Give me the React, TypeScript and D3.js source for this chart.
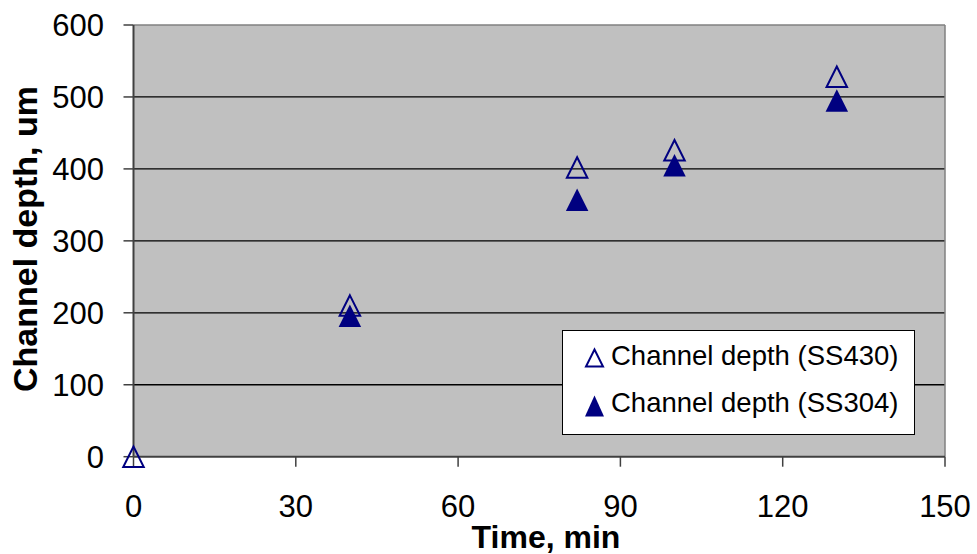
import React from "react";
import * as d3 from "d3";

const W = 977;
const H = 554;

const xTicks = [0, 30, 60, 90, 120, 150];
const yTicks = [0, 100, 200, 300, 400, 500, 600];

const ss430Time = [0, 40, 82, 100, 130];
const ss430Depth = [0, 210, 402, 426, 528];

const ss304Time = [40, 82, 100, 130];
const ss304Depth = [196, 357, 405, 495];

const seriesNames = ["Channel depth (SS430)", "Channel depth (SS304)"];

const NAVY = "#000080";

function tri(cx: number, cy: number, w: number, h: number) {
  const p = d3.path();
  p.moveTo(cx, cy - h / 2);
  p.lineTo(cx + w / 2, cy + h / 2);
  p.lineTo(cx - w / 2, cy + h / 2);
  p.closePath();
  return p.toString();
}

export default function App() {
  const left = 133.5;
  const right = 945;
  const top = 25;
  const bottom = 456.7;
  const x = d3.scaleLinear().domain([0, 150]).range([left, right]);
  const y = d3.scaleLinear().domain([0, 600]).range([bottom, top]);

  const font = "Arial, 'Liberation Sans', sans-serif";

  return (
    <svg
      width={W}
      height={H}
      style={{ position: "absolute", left: 0, top: 0, display: "block" }}
      fontFamily={font}
    >
      <rect x={0} y={0} width={W} height={H} fill="#ffffff" />
      <rect x={left} y={top} width={right - left} height={bottom - top} fill="#C0C0C0" />
      {yTicks
        .filter((t) => t > 0 && t < 600)
        .map((t) => (
          <line key={"g" + t} x1={left} x2={right} y1={y(t)} y2={y(t)} stroke="#000" strokeWidth={1.3} />
        ))}
      <line x1={left} x2={right} y1={top} y2={top} stroke="#808080" strokeWidth={1.5} />
      <line x1={right} x2={right} y1={top} y2={bottom} stroke="#808080" strokeWidth={1.5} />
      <line x1={left} x2={left} y1={top} y2={bottom} stroke="#404040" strokeWidth={2} />
      <line x1={left} x2={right} y1={bottom} y2={bottom} stroke="#404040" strokeWidth={2} />
      {yTicks.map((t) => (
        <g key={"yt" + t}>
          <line x1={left - 10} x2={left} y1={y(t)} y2={y(t)} stroke="#404040" strokeWidth={1.5} />
          <text x={104} y={y(t) + 11} textAnchor="end" fontSize={31} fill="#000">
            {t}
          </text>
        </g>
      ))}
      {xTicks.map((t) => (
        <g key={"xt" + t}>
          <line x1={x(t)} x2={x(t)} y1={bottom} y2={bottom + 10} stroke="#404040" strokeWidth={1.5} />
          <text x={x(t)} y={517} textAnchor="middle" fontSize={31} fill="#000">
            {t}
          </text>
        </g>
      ))}
      <text x={546} y={548} textAnchor="middle" fontSize={32} fontWeight="bold" fill="#000">
        Time, min
      </text>
      <text
        transform={`translate(37,239) rotate(-90)`}
        textAnchor="middle"
        fontSize={34}
        fontWeight="bold"
        fill="#000"
      >
        Channel depth, um
      </text>
      {ss430Time.map((t, i) => (
        <path
          key={"a" + i}
          d={tri(x(t), y(ss430Depth[i]), 20.5, 20.5)}
          fill="none"
          stroke={NAVY}
          strokeWidth={2}
          strokeLinejoin="miter"
        />
      ))}
      {ss304Time.map((t, i) => (
        <path key={"b" + i} d={tri(x(t), y(ss304Depth[i]), 22.5, 22.5)} fill={NAVY} />
      ))}
      <rect x={562.5} y={330.5} width={352} height={104} fill="#ffffff" stroke="#000" strokeWidth={1} />
      <path d={tri(594.5, 358, 17, 17)} fill="none" stroke={NAVY} strokeWidth={2} />
      <path d={tri(594.5, 406, 19, 21)} fill={NAVY} />
      <text x={611} y={365} fontSize={27.5} fill="#000">
        {seriesNames[0]}
      </text>
      <text x={611} y={411.5} fontSize={27.5} fill="#000">
        {seriesNames[1]}
      </text>
    </svg>
  );
}
